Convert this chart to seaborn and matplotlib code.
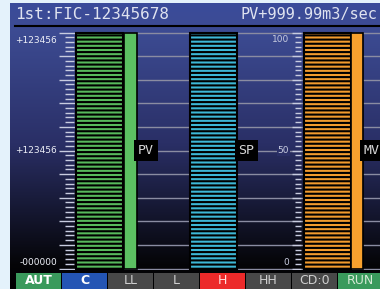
import numpy as np
import pandas as pd
import seaborn as sns
import matplotlib.pyplot as plt
from matplotlib.colors import LinearSegmentedColormap
from matplotlib.lines import Line2D

# --- data ---
tags = ['PV', 'SP', 'MV']
bar_values = [100, 100, 100]
bar_colors = ['#57b95c', '#3db7d6', '#f29b2e']
solid_tags = ['PV', 'MV']
solid_values = [100, 100]
solid_colors = ['#5cc062', '#f8a12e']

title_left = '1st:FIC-12345678'
title_right = 'PV+999.99m3/sec'
left_labels = ['+123456', '+123456', '-000000']
mid_labels = ['100', '50', '0']

status_labels = ['AUT', 'C', 'LL', 'L', 'H', 'HH', 'CD:0', 'RUN']
status_on = [1, 1, 1, 1, 1, 1, 1, 1]
status_colors = ['#3a9a5c', '#2455b4', '#484848', '#484848', '#ec2a2a', '#484848', '#484848', '#3a9a5c']
status_text = ['#ffffff', '#ffffff', '#cfcfcf', '#cfcfcf', '#ffdede', '#cfcfcf', '#cfcfcf', '#d6ead6']
status_bold = ['AUT', 'C']

# --- layout (pixels) ---
W, H = 380, 289
Y0, Y100 = 268.5, 32.5
ppu = (Y0 - Y100) / 100
bar_pos = {'PV': 99.5, 'SP': 213.5, 'MV': 327}
solid_pos = {'PV': 130.5, 'MV': 357}
box_pos = {'PV': 146, 'SP': 246.5, 'MV': 372}


def fig_rect(x0, y0, x1, y1):
    return [x0 / W, 1 - y1 / H, (x1 - x0) / W, (y1 - y0) / H]


plt.rcParams['hatch.linewidth'] = 1.5
mono = 'DejaVu Sans Mono'

fig = plt.figure(figsize=(W / 100, H / 100), dpi=100, facecolor='#e4f2fb')

# panel background with gradient
ax_bg = fig.add_axes(fig_rect(10, 3, 380, 289))
cmap = LinearSegmentedColormap.from_list(
    'panel', [(0, '#3a4b9a'), (24 / 286, '#3d4c94'), (140 / 286, '#2a2f66'),
              (262 / 286, '#050508'), (1, '#000000')])
ax_bg.imshow(np.linspace(0, 1, 286)[:, None], cmap=cmap, aspect='auto',
             extent=[0, 1, 0, 1], origin='upper')
ax_bg.axis('off')

fig.text(15 / W, 1 - 14.5 / H, title_left, fontfamily=mono, fontsize=11.5,
         color='#dfe3f0', va='center', ha='left')
fig.text(240 / W, 1 - 14.5 / H, title_right, fontfamily=mono, fontsize=11,
         color='#dfe3f0', va='center', ha='left')
fig.add_artist(Line2D([15 / W, 1], [1 - 25.5 / H] * 2, color='black', lw=1.5))

# main bar graph area
ax = fig.add_axes(fig_rect(10, 27, 380, 270))
ax.patch.set_alpha(0)

ax.hlines(np.arange(0, 101, 10), 76, 380, color='#8a8ca2', lw=1, zorder=1)
minor = [v for v in range(0, 101, 2) if v % 10]
ax.hlines(minor, 65, 74, color='#c8cce0', lw=1, zorder=2)
ax.hlines(range(0, 101, 10), 59, 75, color='#c8cce0', lw=1, zorder=2)
ax.hlines(minor, 295, 301, color='#c8cce0', lw=1, zorder=2)
ax.hlines(range(0, 101, 10), 292, 301, color='#c8cce0', lw=1, zorder=2)

df = pd.DataFrame({'tag': tags, 'pos': [bar_pos[t] for t in tags], 'value': bar_values})
sns.barplot(data=df, x='pos', y='value', hue='tag', palette=dict(zip(tags, bar_colors)),
            native_scale=True, dodge=False, width=47 / 113.5, saturation=1,
            errorbar=None, legend=False, edgecolor='black', linewidth=1.5,
            hatch='----', ax=ax, zorder=3)

df2 = pd.DataFrame({'tag': solid_tags, 'pos': [solid_pos[t] for t in solid_tags],
                    'value': solid_values})
sns.barplot(data=df2, x='pos', y='value', hue='tag',
            palette=dict(zip(solid_tags, solid_colors)),
            native_scale=True, dodge=False, width=12.5 / 226.5, saturation=1,
            errorbar=None, legend=False, edgecolor='black', linewidth=1.2,
            ax=ax, zorder=3)

for t in tags:
    ax.text(box_pos[t], 50, t, ha='center', va='center', fontfamily=mono,
            fontsize=9.5, color='#d8d8d8', zorder=5,
            bbox=dict(boxstyle='square,pad=0.3', fc='black', ec='none'))

for v, lab in zip([96.5, 50, 2.5], left_labels):
    ax.text(57, v, lab, ha='right', va='center', fontsize=6.5, color='#eef0f8', zorder=5)
for v, lab in zip([97, 50, 2.5], mid_labels):
    ax.text(289, v, lab, ha='right', va='center', fontsize=6.5, color='#c8cce0', zorder=5,
            bbox=dict(boxstyle='square,pad=0.1', fc='#2a2f66' if v == 50 else 'none', ec='none'))

ax.set_xlim(10, 380)
ax.set_ylim((Y0 - 270) / ppu, (Y0 - 27) / ppu)
ax.axis('off')

# status buttons
ax_s = fig.add_axes(fig_rect(10, 273, 380, 289))
ax_s.patch.set_alpha(0)
sns.barplot(x=status_labels, y=status_on, hue=status_labels,
            palette=dict(zip(status_labels, status_colors)), width=45 / 46,
            saturation=1, legend=False, ax=ax_s, linewidth=0)
for i, (lab, c) in enumerate(zip(status_labels, status_text)):
    ax_s.text(i, 0.5, lab, ha='center', va='center', fontsize=9,
              fontweight='bold' if lab in status_bold else 'normal', color=c)
ax_s.set_xlim((10 - 38.5) / 46, (380 - 38.5) / 46)
ax_s.set_ylim(0, 1)
ax_s.axis('off')

fig.savefig('out.png', dpi=100, facecolor=fig.get_facecolor())
